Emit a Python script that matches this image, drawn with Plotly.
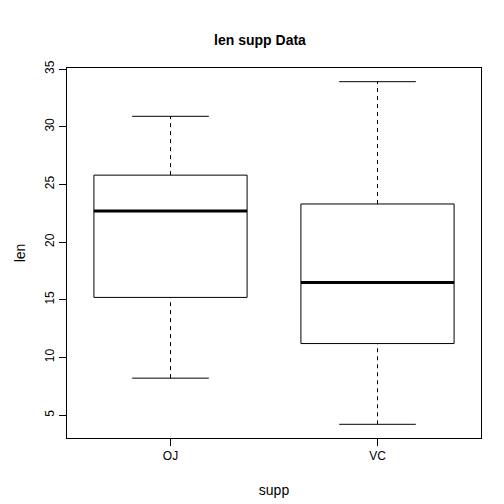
import plotly.graph_objects as go

groups = ["OJ", "VC"]
mins = [8.2, 4.2]
q1s = [15.2, 11.2]
medians = [22.7, 16.5]
q3s = [25.8, 23.3]
maxs = [30.9, 33.9]

fig = go.Figure()
hw, sw = 0.37, 0.185
for i, g in enumerate(groups):
    x = i + 1
    line = dict(color="black", width=1)
    fig.add_trace(go.Scatter(x=[x-hw, x+hw, x+hw, x-hw, x-hw],
                             y=[q1s[i], q1s[i], q3s[i], q3s[i], q1s[i]],
                             mode="lines", line=line))
    fig.add_trace(go.Scatter(x=[x-hw, x+hw], y=[medians[i]]*2, mode="lines",
                             line=dict(color="black", width=3)))
    for a, b in [(mins[i], q1s[i]), (q3s[i], maxs[i])]:
        fig.add_trace(go.Scatter(x=[x, x], y=[a, b], mode="lines",
                                 line=dict(color="black", width=1, dash="4px,4px")))
    for v in [mins[i], maxs[i]]:
        fig.add_trace(go.Scatter(x=[x-sw, x+sw], y=[v, v], mode="lines", line=line))

ax = dict(showline=True, linecolor="black", mirror=True, ticks="outside",
          ticklen=7, tickcolor="black", showgrid=False, zeroline=False,
          automargin=False, tickfont=dict(size=12, color="black"))
fig.update_layout(
    width=504, height=504, showlegend=False,
    plot_bgcolor="white", paper_bgcolor="white",
    font=dict(family="Liberation Sans, Arial", color="black", size=12),
    margin=dict(l=59, r=31, t=60, b=74, autoexpand=False),
    title=dict(text="<b>len supp Data</b>", x=0.5, xanchor="center",
               y=1 - 32 / 504, yanchor="middle", font=dict(size=14)),
    xaxis=dict(ax, range=[0.5, 2.5], tickvals=[1, 2], ticktext=groups,
               title=dict(text="supp", standoff=22)),
    yaxis=dict(ax, range=[3.012, 35.088], tickvals=[5, 10, 15, 20, 25, 30, 35],
               tickangle=-90, title=dict(text="len", standoff=14)),
)
fig.write_html("out.html")
